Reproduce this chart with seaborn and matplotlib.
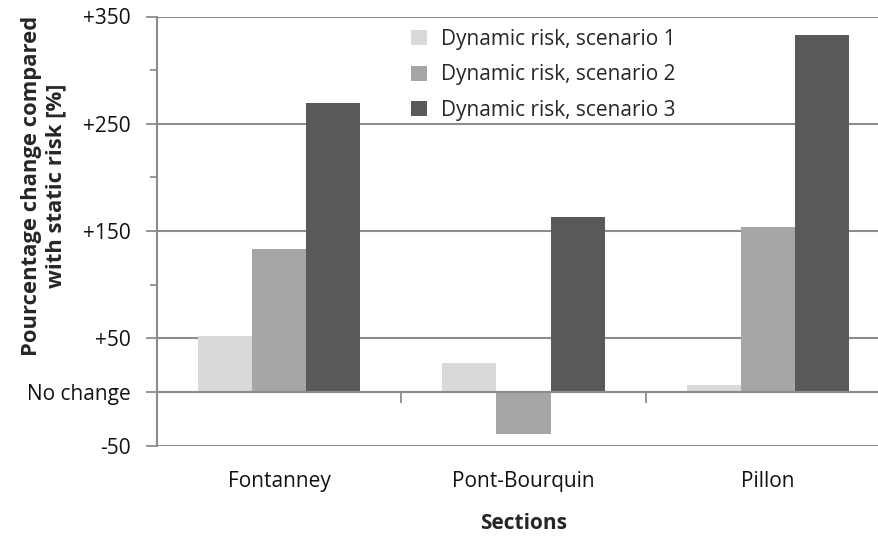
"""Percentage change of dynamic risk vs static risk, per section."""

import matplotlib.pyplot as plt
import matplotlib.ticker as mticker
import pandas as pd
import seaborn as sns

# Data
sections = ["Fontanney", "Pont-Bourquin", "Pillon"]
scenario_1 = [52, 27, 6]
scenario_2 = [133, -39, 154]
scenario_3 = [269, 163, 333]
scenario_names = [
    "Dynamic risk, scenario 1",
    "Dynamic risk, scenario 2",
    "Dynamic risk, scenario 3",
]
colours = ["#d9d9d9", "#a6a6a6", "#595959"]

rows = []
for name, values in zip(scenario_names, [scenario_1, scenario_2, scenario_3]):
    for section, value in zip(sections, values):
        rows.append({"section": section, "scenario": name, "change": value})
data = pd.DataFrame(rows)

# Plot
sns.set_style(style="white")
plt.rcParams["font.family"] = ["Open Sans", "DejaVu Sans"]
GRID = "#8c8c8c"
FS = 15

fig = plt.figure(figsize=(8.79, 5.38), dpi=100)
# right edge of the plot area runs past the picture, as in the reference
ax = fig.add_axes([157 / 879, 1 - 445.5 / 538, 733 / 879, 429 / 538])

sns.barplot(
    data=data,
    x="section",
    y="change",
    hue="scenario",
    palette=colours,
    width=0.665,
    gap=0,
    linewidth=0,
    ax=ax,
)

ax.set_xlim(-0.5, 2.5)
ax.set_ylim(-50, 350)

# y ticks
major = [-50, 0, 50, 150, 250, 350]
labels = ["-50", "No change", "+50", "+150", "+250", "+350"]
ax.yaxis.set_major_locator(mticker.FixedLocator(major))
ax.set_yticklabels(labels)
ax.yaxis.set_minor_locator(mticker.FixedLocator([100, 200, 300]))
ax.tick_params(axis="y", which="major", left=True, length=8, width=1.3,
               color=GRID, labelsize=FS, pad=11, labelcolor="#111111")
ax.tick_params(axis="y", which="minor", left=True, length=5, width=1.3,
               color=GRID)
ax.yaxis.grid(True, which="major", color=GRID, linewidth=1.5)
ax.set_axisbelow(True)

# x axis on the zero line, category boundary ticks
ax.spines["bottom"].set_position(("data", 0))
ax.spines["bottom"].set_color(GRID)
ax.spines["bottom"].set_linewidth(1.5)
ax.spines["bottom"].set_zorder(5)
ax.spines["left"].set_color(GRID)
ax.spines["left"].set_linewidth(1.5)
ax.spines["top"].set_visible(False)
ax.spines["right"].set_visible(False)
ax.xaxis.set_minor_locator(mticker.FixedLocator([0.5, 1.5]))
ax.tick_params(axis="x", which="minor", bottom=True, length=8, width=1.3,
               color=GRID)
ax.tick_params(axis="x", which="major", bottom=False, length=0, pad=57,
               labelsize=FS, labelcolor="#111111")

ax.set_xlabel("Sections", fontsize=FS, fontweight="bold", labelpad=15)
ax.set_ylabel("Pourcentage change compared\nwith static risk [%]",
              fontsize=15.8, fontweight="bold")
ax.yaxis.set_label_coords(-0.124, 0.605)

ax.legend(
    loc="upper left",
    bbox_to_anchor=(0.321, 1.015),
    frameon=False,
    fontsize=FS,
    handlelength=0.75,
    handleheight=0.75,
    handletextpad=0.7,
    labelspacing=0.7,
)

plt.savefig("out.png", dpi=100)
